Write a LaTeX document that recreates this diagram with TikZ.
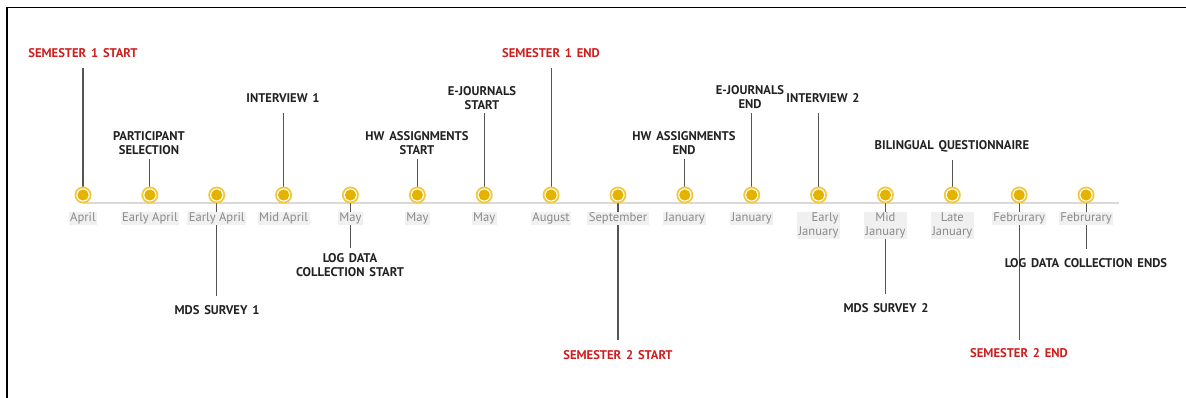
\documentclass[tikz,border=0pt]{standalone}
\usepackage{fontspec}
\setmainfont{PT Sans}
\newfontfamily\labfont[WordSpace=1.5]{PT Sans}
\pgfdeclarelayer{background}
\pgfsetlayers{background,main}
\definecolor{gold}{HTML}{E3B300}
\definecolor{goldring}{HTML}{F0C93C}
\definecolor{lab}{HTML}{222222}
\definecolor{semred}{HTML}{CC1F1F}
\definecolor{conncol}{HTML}{555555}
\definecolor{datetxt}{HTML}{8A8A8A}
\definecolor{datebg}{HTML}{F0F0F0}
\definecolor{axiscol}{HTML}{D9D9D9}
\tikzset{
  evlabel/.style={inner sep=0pt, align=center, text=lab, font=\labfont\bfseries\fontsize{12.6}{14}\selectfont},
  semlabel/.style={evlabel, text=semred},
  datelabel/.style={anchor=north, fill=datebg, text=datetxt, inner xsep=1.5pt, inner ysep=1pt, align=center, font=\fontsize{12.6}{14}\selectfont},
  dotmark/.style={circle, fill=goldring, minimum size=17pt, inner sep=0pt,
    path picture={\fill[white] (path picture bounding box.center) circle (6.6pt);
                  \fill[gold] (path picture bounding box.center) circle (5.6pt);}},
  conn/.style={draw=conncol, line width=1.1pt},
}
\begin{document}
\begin{tikzpicture}[x=1pt,y=-1pt]
\useasboundingbox (0,0) rectangle (1186,398);
\draw[line width=1.4pt] (7,398) -- (7,7.5) -- (1186,7.5);
% dots and dates
\foreach \i/\d/\al in {1/April/center,2/Early April/center,3/Early April/center,4/Mid April/center,5/May/center,6/May/center,7/May/center,8/August/center,9/September/center,10/January/center,11/January/center,12/Early\\January/right,13/Mid\\January/center,14/Late\\January/center,15/Februrary/center,16/Februrary/center}{
  \node[dotmark] (d\i) at ({83+(\i-1)*66.87},195) {};
  \node[datelabel, align=\al] (t\i) at ({83+(\i-1)*66.87},211.5) {\d};
}
% upper labels
\node[semlabel] (u1) at (83,53) {SEMESTER 1 START};
\node[evlabel] (u2) at (149,143) {PARTICIPANT\\SELECTION};
\node[evlabel] (u4) at (283,98) {INTERVIEW 1};
\node[evlabel] (u6) at (417,143) {HW ASSIGNMENTS\\START};
\node[evlabel] (u7) at (482,98) {E-JOURNALS\\START};
\node[semlabel] (u8) at (551,53) {SEMESTER 1 END};
\node[evlabel] (u10) at (684,143) {HW ASSIGNMENTS\\END};
\node[evlabel] (u11) at (750,97) {E-JOURNALS\\END};
\node[evlabel] (u12) at (823,98) {INTERVIEW 2};
\node[evlabel] (u14) at (952,146) {BILINGUAL QUESTIONNAIRE};
% lower labels
\node[evlabel] (b3) at (217,310) {MDS SURVEY 1};
\node[evlabel] (b5) at (350,265) {LOG DATA\\COLLECTION START};
\node[semlabel] (b9) at (618,355) {SEMESTER 2 START};
\node[evlabel] (b13) at (886,308) {MDS SURVEY 2};
\node[semlabel] (b15) at (1019,353) {SEMESTER 2 END};
\node[evlabel] (b16) at (1086,263) {LOG DATA COLLECTION ENDS};
\begin{pgfonlayer}{background}
\draw[axiscol, line width=1.6pt] (d1.center |- 0,203) -- (1119,203);
\foreach \n/\g in {1/10,2/4,4/10,6/4,7/3,8/10,10/4,11/4,12/10,14/8}{
  \draw[conn, shorten <=\g pt] (d\n |- u\n.south) -- (d\n.center);
}
\foreach \n/\g in {3/9,5/5,9/10,13/9,15/8,16/9}{
  \draw[conn, shorten >=\g pt] (d\n.center) -- (d\n |- b\n.north);
}
\end{pgfonlayer}
\end{tikzpicture}
\end{document}
